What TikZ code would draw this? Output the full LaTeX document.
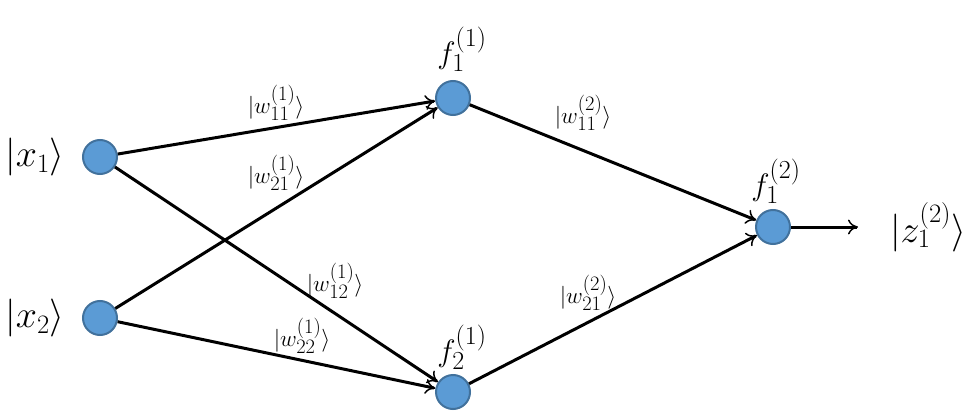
\RequirePackage{fix-cm}
\documentclass[tikz,border=0pt]{standalone}
\usetikzlibrary{arrows.meta}
\DeclareMathSizes{31}{31}{26}{20}
\DeclareMathSizes{23}{23}{20.5}{15}
\definecolor{nodefill}{RGB}{91,155,213}
\definecolor{nodeline}{RGB}{65,113,156}
\begin{document}
\begin{tikzpicture}[x=1pt,y=-1pt,
  neuron/.style={circle,fill=nodefill,draw=nodeline,line width=2pt,minimum size=34pt,inner sep=0pt},
  conn/.style={line width=3pt,-{To[length=10pt,width=15pt,line width=1.5pt]}},
  biglab/.style={font=\fontsize{38}{42}\selectfont,inner sep=0pt},
  flab/.style={font=\fontsize{31}{35}\selectfont,inner sep=0pt},
  wlab/.style={font=\fontsize{23}{26}\selectfont,inner sep=0pt}]
\useasboundingbox (0,0) rectangle (972,420);
\node[neuron] (x1) at (100,157) {};
\node[neuron] (x2) at (100,318) {};
\node[neuron] (h1) at (453,98) {};
\node[neuron] (h2) at (453,392) {};
\node[neuron] (o) at (773,227) {};
\coordinate (out) at (858,227);

\draw[conn] (x1) -- (h1);
\draw[conn] (x1) -- (h2);
\draw[conn] (x2) -- (h1);
\draw[conn] (x2) -- (h2);
\draw[conn] (h1) -- (o);
\draw[conn] (h2) -- (o);
\draw[conn] (o) -- (out);

\node[biglab] (lx1) at (35,157) {$|x_1\rangle$};
\node[biglab] (lx2) at (35,318) {$|x_2\rangle$};
\node[biglab] (lz) at (928,227) {$|z_1^{(2)}\rangle$};
\node[flab] (lh1) at (462,49) {$f_1^{(1)}$};
\node[flab] (lh2) at (462,347) {$f_2^{(1)}$};
\node[flab] (lo) at (776,181) {$f_1^{(2)}$};
\node[wlab] (w111) at (276,103) {$|w_{11}^{(1)}\rangle$};
\node[wlab] (w121) at (276,173) {$|w_{21}^{(1)}\rangle$};
\node[wlab] (w112) at (335,281) {$|w_{12}^{(1)}\rangle$};
\node[wlab] (w122) at (302,336) {$|w_{22}^{(1)}\rangle$};
\node[wlab] (w211) at (583,113) {$|w_{11}^{(2)}\rangle$};
\node[wlab] (w221) at (588,293) {$|w_{21}^{(2)}\rangle$};
\end{tikzpicture}
\end{document}
